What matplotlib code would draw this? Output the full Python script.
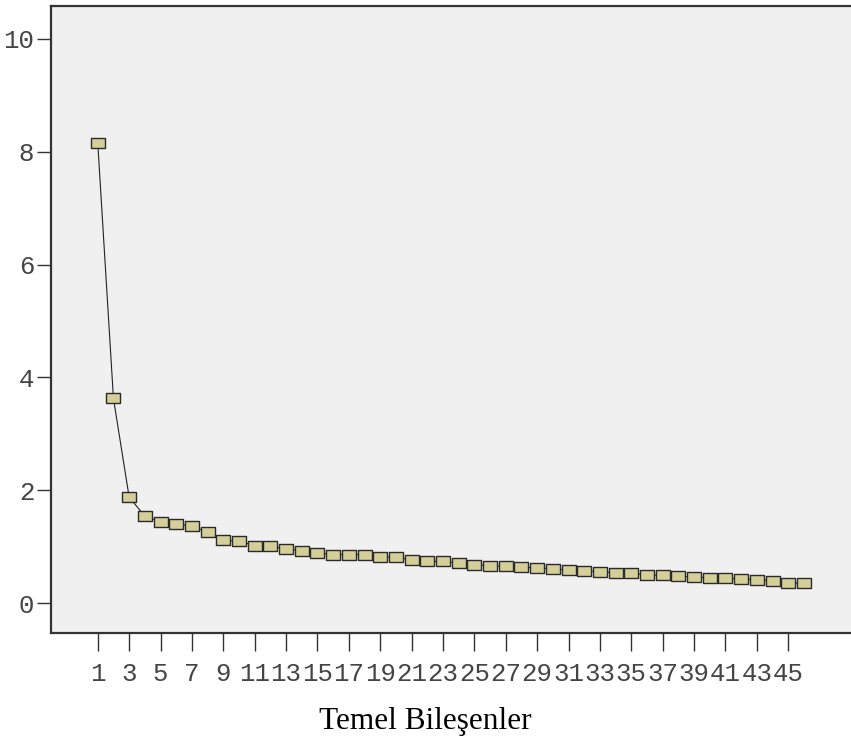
import matplotlib
matplotlib.use("Agg")
import matplotlib.pyplot as plt
from matplotlib.path import Path

# eigenvalues
components = list(range(1, 47))
eigenvalues = [8.16, 3.63, 1.88, 1.54, 1.44, 1.41, 1.36, 1.26, 1.11, 1.10,
               1.02, 1.005, 0.96, 0.93, 0.89, 0.86, 0.86, 0.86, 0.82, 0.81,
               0.77, 0.74, 0.74, 0.71, 0.68, 0.66, 0.65, 0.64, 0.62, 0.61,
               0.58, 0.57, 0.56, 0.53, 0.53, 0.50, 0.49, 0.48, 0.46, 0.45,
               0.44, 0.43, 0.41, 0.40, 0.36, 0.35]
xticks = list(range(1, 46, 2))
yticks = [0, 2, 4, 6, 8, 10]

fig = plt.figure(figsize=(8.51, 7.44), dpi=100)
ax = fig.add_axes([0.0599, 0.1492, 0.9401, 0.8428])
ax.set_facecolor("#f0f0f0")

# wide rectangle marker like SPSS
rect = Path([(-1, -0.66), (1, -0.66), (1, 0.66), (-1, 0.66), (-1, -0.66)],
            [Path.MOVETO, Path.LINETO, Path.LINETO, Path.LINETO, Path.CLOSEPOLY])
ax.plot(components, eigenvalues, color="#222222", linewidth=0.8,
        marker=rect, markersize=10, markerfacecolor="#d4cf98",
        markeredgecolor="#2a2a2a", markeredgewidth=1.0)

ax.set_xlim(-1.98, 49.0)
ax.set_ylim(-0.53, 10.585)

mono = "Liberation Mono"
ax.set_xticks(xticks)
ax.set_xticklabels([str(t) for t in xticks], family=mono, fontsize=18.5, color="#444444")
ax.set_yticks(yticks)
ax.set_yticklabels([str(t) for t in yticks], family=mono, fontsize=18.5, color="#444444")
ax.tick_params(axis="x", length=13, width=1.0, color="#333333", pad=8)
ax.tick_params(axis="y", length=10, width=1.0, color="#333333", pad=2)

for side in ["left", "bottom", "top"]:
    ax.spines[side].set_linewidth(1.6)
    ax.spines[side].set_color("#333333")
ax.spines["right"].set_visible(False)

ax.set_xlabel("Temel Bileşenler", family="Liberation Serif", fontsize=22.5)
ax.xaxis.set_label_coords(0.468, -0.118)

fig.savefig("out.png", dpi=100)
